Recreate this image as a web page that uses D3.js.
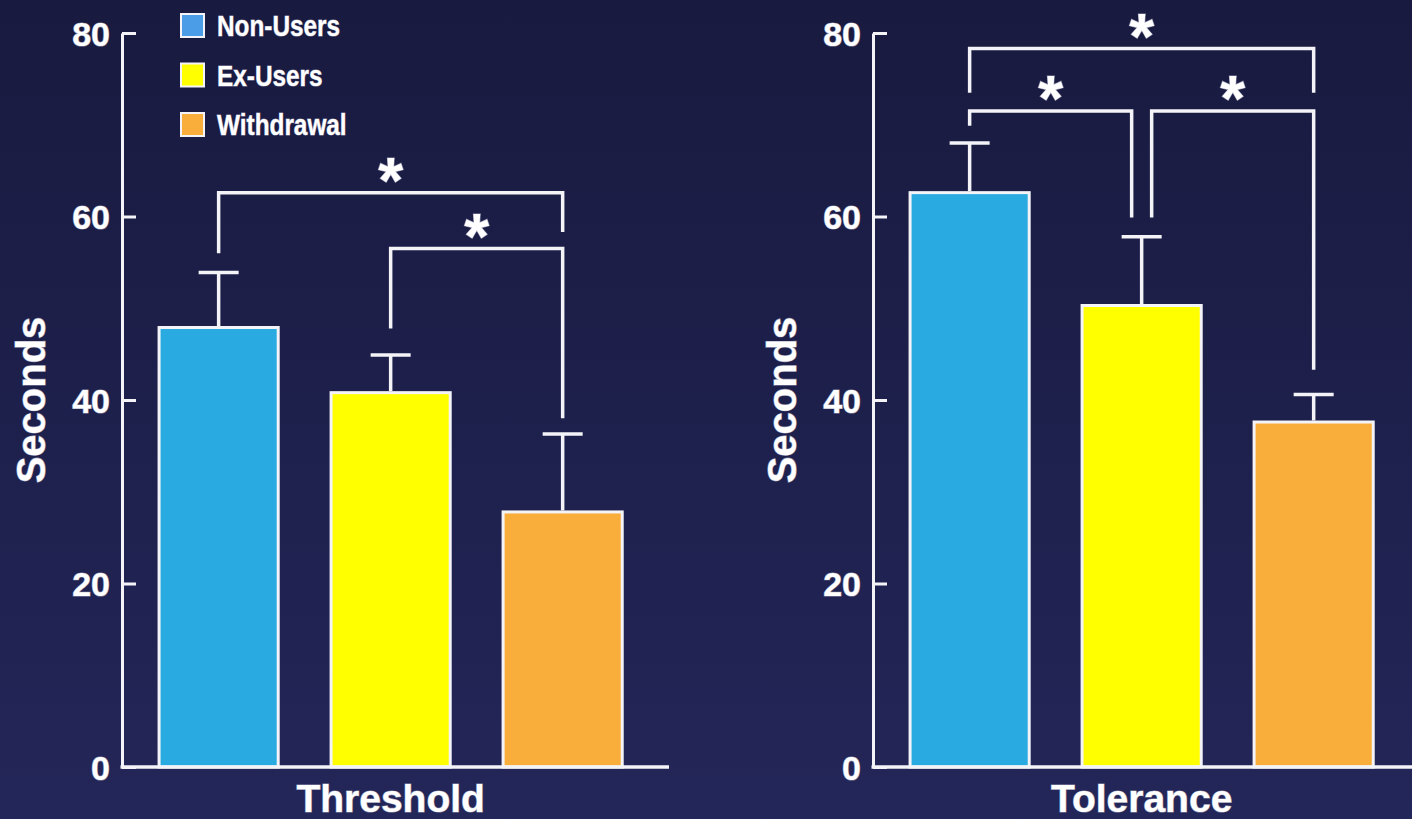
<!DOCTYPE html>
<html>
<head>
<meta charset="utf-8">
<script src="https://cdn.jsdelivr.net/npm/d3@7"></script>
<style>
  html, body { margin: 0; padding: 0; background: #1c1d48; }
  svg { display: block; }
  .lbl { fill: #fff; stroke: #8c8ca8; stroke-width: 1.2px; paint-order: stroke; font-family: "Liberation Sans", Arial, sans-serif; font-weight: bold; }
  .legendText { fill: #fff; stroke: #8c8ca8; stroke-width: 1px; paint-order: stroke; font-family: "Liberation Sans", Arial, sans-serif; font-weight: bold; }
</style>
</head>
<body>
<div id="chart"></div>
<script>
// data vars
const groups = ["Non-Users", "Ex-Users", "Withdrawal"];
const barColors = ["#29aae1", "#ffff00", "#f9ae3b"];
const legendColors = ["#4b9de8", "#ffff00", "#f9ae3b"];
const yTicks = [0, 20, 40, 60, 80];

const thresholdMeans = [47.9, 40.8, 27.8];
const thresholdErrTops = [53.9, 44.9, 36.3];
const toleranceMeans = [62.6, 50.3, 37.6];
const toleranceErrTops = [68.0, 57.8, 40.6];

// significance brackets (values in seconds)
const thresholdBrackets = [
  { from: 0, to: 2, top: 62.6, leftEnd: 56.0, rightEnd: 58.3 },
  { from: 1, to: 2, top: 56.5, leftEnd: 47.8, rightEnd: 38.0 }
];
const toleranceBrackets = [
  { from: 0, to: 2, top: 78.3, leftEnd: 73.5, rightEnd: 73.5 },
  { from: 0, to: 1, top: 71.5, leftEnd: 69.9, rightEnd: 59.9 },
  { from: 1, to: 2, top: 71.5, leftEnd: 59.9, rightEnd: 43.3 }
];

// constants
const width = 1412;
const height = 819;
const yTop = 33;
const yBottom = 767;
const legOffset = 10; // brackets meeting at same bar are split apart

const svg = d3.select("#chart")
  .append("svg")
  .attr("width", width)
  .attr("height", height);

const grad = svg.append("defs")
  .append("linearGradient")
  .attr("id", "bg")
  .attr("x1", 0).attr("y1", 0)
  .attr("x2", 0).attr("y2", 1);
grad.append("stop").attr("offset", "0%").attr("stop-color", "#181a3f");
grad.append("stop").attr("offset", "100%").attr("stop-color", "#232658");

svg.append("rect")
  .attr("width", width)
  .attr("height", height)
  .attr("fill", "url(#bg)");

const y = d3.scaleLinear()
  .domain([0, 80])
  .range([yBottom, yTop]);

drawPanel(122, 669, thresholdMeans, thresholdErrTops, thresholdBrackets, "Threshold", true);
drawPanel(873, 1420, toleranceMeans, toleranceErrTops, toleranceBrackets, "Tolerance", false);

function drawPanel(x0, x1, means, errTops, brackets, title, withLegend) {
  const x = d3.scaleBand()
    .domain(groups)
    .range([x0, x1])
    .paddingInner(0.29)
    .paddingOuter(0.235)
    .align(0.44);

  const g = svg.append("g");

  // bars
  g.append("g")
    .selectAll("rect")
    .data(groups)
    .join("rect")
    .attr("x", d => x(d) + 1.5)
    .attr("y", (d, i) => y(means[i]))
    .attr("width", x.bandwidth() - 3)
    .attr("height", (d, i) => yBottom - y(means[i]))
    .attr("fill", (d, i) => barColors[i])
    .attr("stroke", "#f4f4f8")
    .attr("stroke-width", 3);

  // error bars (upper only)
  const err = g.append("g")
    .selectAll("g")
    .data(groups)
    .join("g")
    .attr("stroke", "#f4f4f8")
    .attr("stroke-width", 3.5);

  err.append("line")
    .attr("x1", d => x(d) + x.bandwidth() / 2)
    .attr("x2", d => x(d) + x.bandwidth() / 2)
    .attr("y1", (d, i) => y(means[i]) - 1.5)
    .attr("y2", (d, i) => y(errTops[i]));

  err.append("line")
    .attr("x1", d => x(d) + x.bandwidth() / 2 - 20)
    .attr("x2", d => x(d) + x.bandwidth() / 2 + 20)
    .attr("y1", (d, i) => y(errTops[i]))
    .attr("y2", (d, i) => y(errTops[i]));

  // y axis, ticks pointing inward
  g.append("g")
    .attr("transform", `translate(${x0}, 0)`)
    .call(d3.axisLeft(y).tickValues(yTicks).tickSizeInner(-14).tickSizeOuter(0).tickPadding(12))
    .call(a => a.select(".domain").attr("stroke", "#f4f4f8").attr("stroke-width", 3))
    .call(a => a.selectAll(".tick line").attr("stroke", "#f4f4f8").attr("stroke-width", 3))
    .call(a => a.selectAll(".tick text")
      .attr("class", "lbl")
      .attr("font-size", 34)
      .attr("dy", "0.36em"));

  // baseline
  g.append("line")
    .attr("x1", x0 - 1.5)
    .attr("x2", x1)
    .attr("y1", y(0))
    .attr("y2", y(0))
    .attr("stroke", "#f4f4f8")
    .attr("stroke-width", 3.5);

  // axis titles
  g.append("text")
    .attr("class", "lbl")
    .attr("transform", `translate(${x0 - 77}, ${(yTop + yBottom) / 2}) rotate(-90)`)
    .attr("text-anchor", "middle")
    .attr("font-size", 40)
    .text("Seconds");

  g.append("text")
    .attr("class", "lbl")
    .attr("x", x(groups[1]) + x.bandwidth() / 2)
    .attr("y", 812)
    .attr("text-anchor", "middle")
    .attr("font-size", 39)
    .text(title);

  // significance brackets
  const bx = (b, idx) => {
    const c = x(groups[idx]) + x.bandwidth() / 2;
    const shared = brackets.filter(o => o !== b && o.top === b.top &&
      (o.from === idx || o.to === idx)).length > 0;
    if (!shared) return c;
    return idx === b.to ? c - legOffset : c + legOffset;
  };

  const br = g.append("g")
    .selectAll("g")
    .data(brackets)
    .join("g");

  br.append("path")
    .attr("fill", "none")
    .attr("stroke", "#f4f4f8")
    .attr("stroke-width", 3.5)
    .attr("d", b => {
      const xa = bx(b, b.from);
      const xb = bx(b, b.to);
      return `M${xa},${y(b.leftEnd)}V${y(b.top)}H${xb}V${y(b.rightEnd)}`;
    });

  br.append("text")
    .attr("class", "lbl")
    .attr("x", b => (bx(b, b.from) + bx(b, b.to)) / 2)
    .attr("y", b => y(b.top) + 10)
    .attr("text-anchor", "middle")
    .attr("font-size", 64)
    .text("*");

  if (withLegend) {
    const leg = g.append("g")
      .selectAll("g")
      .data(groups)
      .join("g")
      .attr("transform", (d, i) => `translate(181, ${14 + i * 49.5})`);

    leg.append("rect")
      .attr("width", 23)
      .attr("height", 23)
      .attr("fill", (d, i) => legendColors[i])
      .attr("stroke", "#f4f4f8")
      .attr("stroke-width", 2);

    leg.append("text")
      .attr("class", "legendText")
      .attr("transform", "translate(36, 22) scale(0.84, 1)")
      .attr("font-size", 29)
      .text(d => d);
  }
}
</script>
</body>
</html>
